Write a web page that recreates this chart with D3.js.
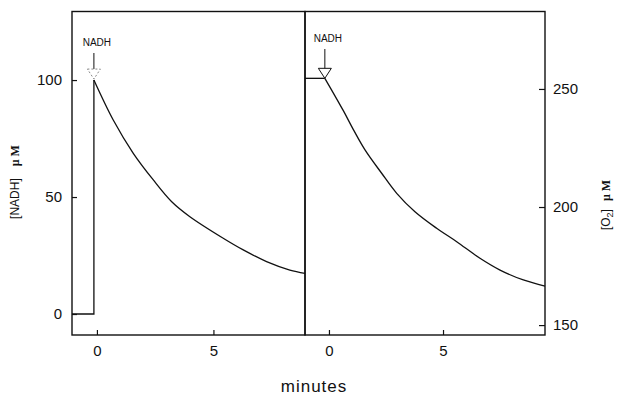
<!DOCTYPE html>
<html>
<head>
<meta charset="utf-8">
<script src="https://cdn.jsdelivr.net/npm/d3@7"></script>
<style>
  body { margin: 0; background: #fff; }
  text { font-family: "Liberation Sans", Arial, sans-serif; fill: #111; }
</style>
</head>
<body>
<svg id="chart"></svg>
<script>
let width = 618, height = 401;

// NADH panel (left), minutes vs uM
let nadhTime = [-1.07, -0.13, -0.13, 0.70, 1.56, 2.42, 3.21, 3.99, 5.42, 6.28, 7.28, 8.28, 8.93];
let nadhConc = [0, 0, 100, 82.9, 68.7, 57.3, 48.0, 41.6, 32.4, 27.4, 22.4, 18.8, 17.4];

// O2 panel (right), minutes vs uM
let o2Time = [-1.05, -0.18, 0.63, 1.07, 1.58, 2.31, 2.97, 3.77, 4.72, 5.60, 6.62, 7.50, 8.52, 9.47];
let o2Conc = [254.5, 254.5, 240.8, 232.8, 224.2, 214.3, 205.8, 198.0, 191.0, 185.3, 178.3, 173.3, 169.1, 166.5];

let nadhTicks = [0, 50, 100];
let o2Ticks = [150, 200, 250];
let timeTicks = [0, 5];

let svg = d3.select("#chart")
    .attr("width", width)
    .attr("height", height);

let pTop = 11.5, pBottom = 335, pLeft = 72, pMid = 305, pRight = 545;

let xL = d3.scaleLinear().domain([-1.07, 8.93]).range([pLeft, pMid]);
let xR = d3.scaleLinear().domain([-1.05, 9.47]).range([pMid, pRight]);
let yL = d3.scaleLinear().domain([-8.97, 129.3]).range([pBottom, pTop]);
let yR = d3.scaleLinear().domain([145.8, 282.8]).range([pBottom, pTop]);

// frames
svg.append("rect")
    .attr("x", pLeft).attr("y", pTop)
    .attr("width", pMid - pLeft).attr("height", pBottom - pTop)
    .attr("fill", "none").attr("stroke", "#111").attr("stroke-width", 1.4);
svg.append("rect")
    .attr("x", pMid).attr("y", pTop)
    .attr("width", pRight - pMid).attr("height", pBottom - pTop)
    .attr("fill", "none").attr("stroke", "#111").attr("stroke-width", 1.4);

// axes
function styleAxis(g) {
    g.select(".domain").remove();
    g.selectAll("line").attr("stroke", "#111").attr("stroke-width", 1.2);
    g.selectAll("text")
        .style("font-size", "15px")
        .style("font-family", "Liberation Sans, Arial, sans-serif");
}

svg.append("g")
    .attr("transform", "translate(" + pLeft + ",0)")
    .call(d3.axisLeft(yL).tickValues(nadhTicks).tickSizeInner(-5).tickSizeOuter(0).tickPadding(10))
    .call(styleAxis);

svg.append("g")
    .attr("transform", "translate(" + pRight + ",0)")
    .call(d3.axisRight(yR).tickValues(o2Ticks).tickSizeInner(-6).tickSizeOuter(0).tickPadding(8))
    .call(styleAxis);

svg.append("g")
    .attr("transform", "translate(0," + pBottom + ")")
    .call(d3.axisBottom(xL).tickValues(timeTicks).tickSizeInner(-5).tickSizeOuter(0).tickPadding(10).tickFormat(d3.format("d")))
    .call(styleAxis);

svg.append("g")
    .attr("transform", "translate(0," + pBottom + ")")
    .call(d3.axisBottom(xR).tickValues(timeTicks).tickSizeInner(-5).tickSizeOuter(0).tickPadding(10).tickFormat(d3.format("d")))
    .call(styleAxis);

// curves: baseline + jump drawn straight, decay drawn smooth
let nadhData = nadhTime.map((t, i) => [t, nadhConc[i]]);
let o2Data = o2Time.map((t, i) => [t, o2Conc[i]]);

function drawTrace(data, split, x, y) {
    svg.append("path")
        .datum(data.slice(0, split + 1))
        .attr("fill", "none")
        .attr("stroke", "#111")
        .attr("stroke-width", 1.3)
        .attr("d", d3.line().x(d => x(d[0])).y(d => y(d[1])));
    svg.append("path")
        .datum(data.slice(split))
        .attr("fill", "none")
        .attr("stroke", "#111")
        .attr("stroke-width", 1.3)
        .attr("d", d3.line().curve(d3.curveCatmullRom.alpha(0.5)).x(d => x(d[0])).y(d => y(d[1])));
}
drawTrace(nadhData, 2, xL, yL);
drawTrace(o2Data, 1, xR, yR);

// NADH addition markers
function marker(x, tipY, textY, lineTop, dashed) {
    svg.append("text")
        .attr("x", x + 3).attr("y", textY)
        .attr("text-anchor", "middle")
        .style("font-size", "10px")
        .text("NADH");
    svg.append("line")
        .attr("x1", x).attr("x2", x)
        .attr("y1", lineTop).attr("y2", tipY - 10)
        .attr("stroke", "#111").attr("stroke-width", 1);
    svg.append("path")
        .attr("d", "M" + (x - 6.5) + "," + (tipY - 10) + "L" + (x + 6.5) + "," + (tipY - 10) + "L" + x + "," + tipY + "Z")
        .attr("fill", "none")
        .attr("stroke", dashed ? "#888" : "#111")
        .attr("stroke-width", 1)
        .attr("stroke-dasharray", dashed ? "2,2" : null);
}
marker(xL(nadhTime[1]), yL(nadhConc[2]) - 1, 46, 53, true);
marker(xR(o2Time[1]), yR(o2Conc[1]), 42, 49, false);

// axis titles
let lt = svg.append("text")
    .attr("transform", "translate(19,182) rotate(-90)")
    .attr("text-anchor", "middle")
    .style("font-size", "12px");
lt.append("tspan").text("[NADH]");
lt.append("tspan").attr("dx", 12).style("font-weight", "bold").style("font-family", "Liberation Serif, serif").text("μ M");

let rt = svg.append("text")
    .attr("transform", "translate(610,205) rotate(-90)")
    .attr("text-anchor", "middle")
    .style("font-size", "12px");
rt.append("tspan").text("[O");
rt.append("tspan").attr("dy", 3).style("font-size", "9px").text("2");
rt.append("tspan").attr("dy", -3).text("]");
rt.append("tspan").attr("dx", 8).style("font-weight", "bold").style("font-family", "Liberation Serif, serif").text("μ M");

svg.append("text")
    .attr("x", 314).attr("y", 392)
    .attr("text-anchor", "middle")
    .style("font-size", "17px")
    .style("letter-spacing", "1px")
    .text("minutes");
</script>
</body>
</html>
